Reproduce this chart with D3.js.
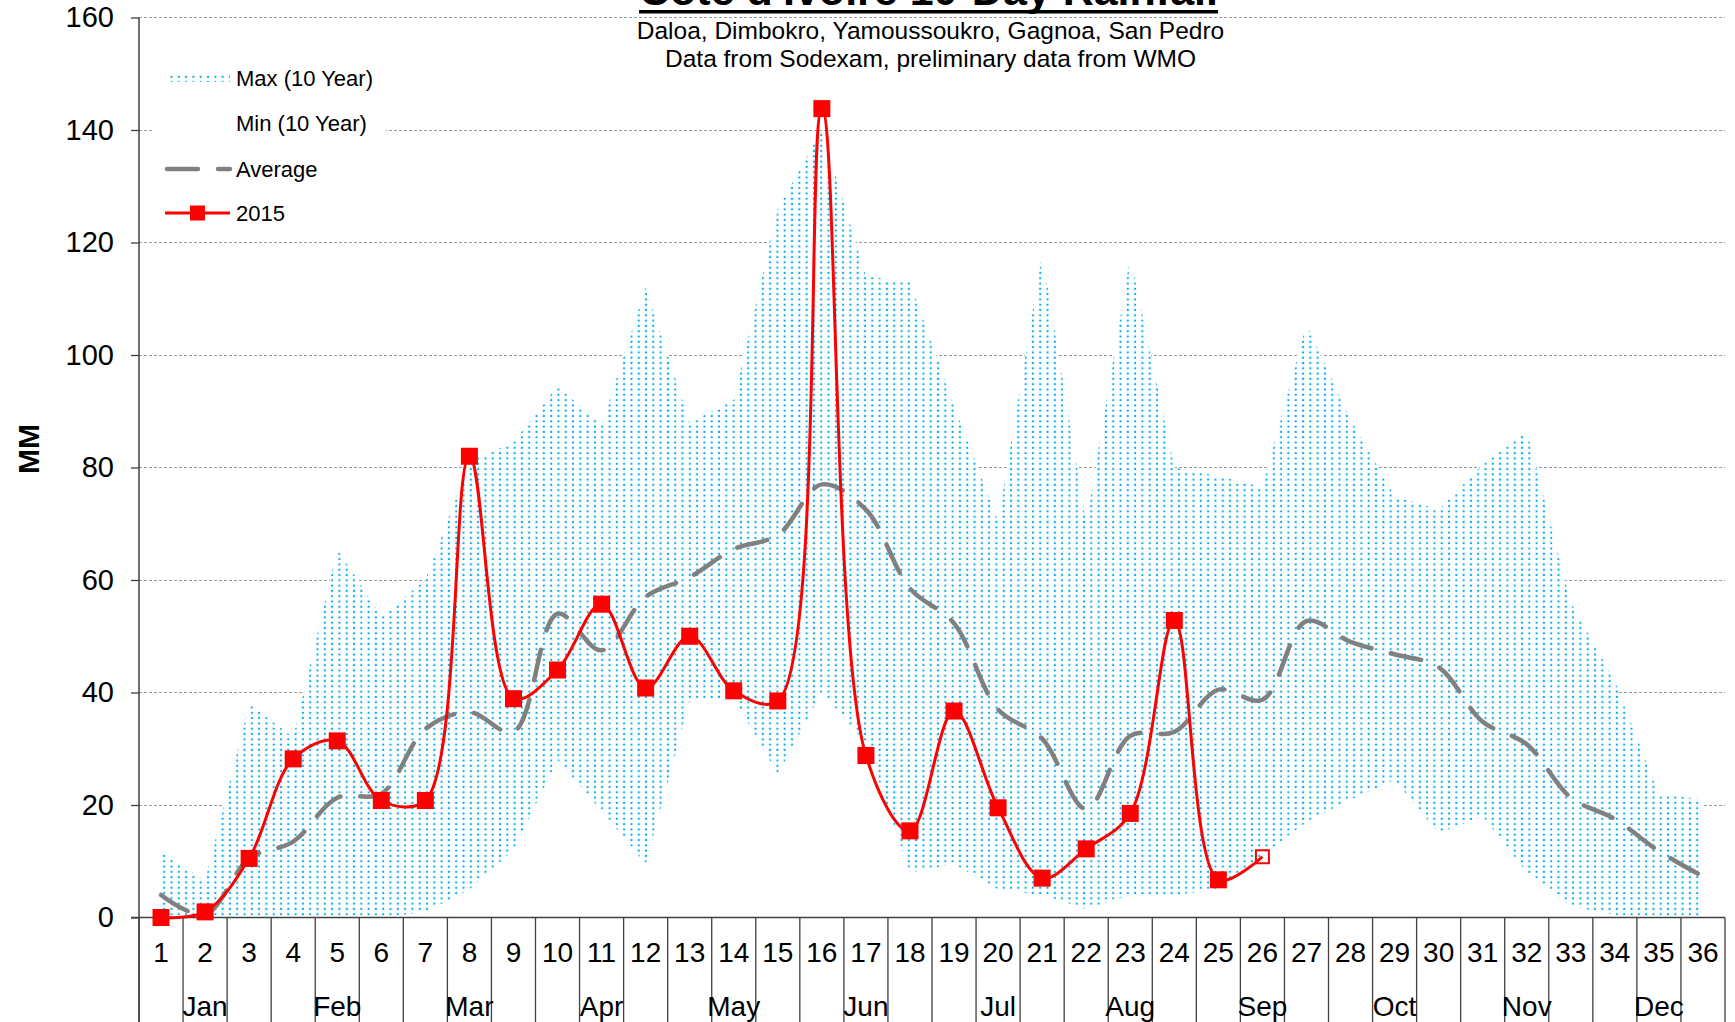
<!DOCTYPE html>
<html><head><meta charset="utf-8">
<script src="https://cdn.jsdelivr.net/npm/d3@7"></script>
<style>html,body{margin:0;padding:0;background:#fff;overflow:hidden}svg{display:block;font-family:"Liberation Sans",Arial,sans-serif}</style>
</head><body>
<svg id="chart" width="1735" height="1022"></svg>
<script>
const categories = ["1","2","3","4","5","6","7","8","9","10","11","12","13","14","15","16","17","18","19","20","21","22","23","24","25","26","27","28","29","30","31","32","33","34","35","36"];
const months = ["Jan","Feb","Mar","Apr","May","Jun","Jul","Aug","Sep","Oct","Nov","Dec"];
const maxValues = [12, 6.5, 38, 32, 65.5, 53.5, 60, 81, 84.5, 94.5, 87.5, 112, 88, 92, 126, 140, 114, 113, 91, 70.5, 118, 70, 117.5, 80, 78.5, 76.5, 105.5, 88.5, 75, 72.5, 80.5, 86.5, 56, 42, 22, 21];
const minValues = [0, 0, 0, 0, 0, 0, 1, 5, 12, 28, 19, 9.5, 38.5, 39, 25.5, 40, 31, 8, 9.5, 5, 4, 1.5, 4, 4, 5, 11, 17, 21, 24.5, 15, 18, 8, 2, 0.5, 0, 0];
const avgValues = [4, 0.5, 10.5, 13.5, 21.3, 22, 33.5, 36.5, 33, 54, 47.5, 57, 60.5, 65.5, 68, 77, 72.5, 58.5, 52.3, 37, 31.8, 19.3, 32.3, 33, 40.5, 38.7, 52.7, 49, 46.8, 44.5, 34.8, 30.8, 21.3, 17.5, 11.8, 7.3];
const values2015 = [0, 1, 10.5, 28.2, 31.4, 20.8, 20.8, 82, 38.9, 44, 55.7, 40.8, 50, 40.3, 38.5, 143.8, 28.8, 15.4, 36.7, 19.5, 7, 12.2, 18.5, 52.8, 6.7, 10.8];
const yTicks = [0, 20, 40, 60, 80, 100, 120, 140, 160];
const legendLabels = ["Max (10 Year)", "Min (10 Year)", "Average", "2015"];

const FONT = '"Liberation Sans", Arial, sans-serif';
const svg = d3.select("#chart");
const x = d3.scaleBand().domain(categories).range([139, 1725]).padding(0);
const bw = x.bandwidth();
const xc = c => x(c) + bw / 2;
const y = d3.scaleLinear().domain([0, 160]).range([917.5, 17.5]);
const bottom = 1022;

// pattern
const defs = svg.append("defs");
const pat = defs.append("pattern").attr("id", "dots").attr("patternUnits", "userSpaceOnUse")
  .attr("width", 7.3).attr("height", 5.3);
pat.append("rect").attr("width", 7.3).attr("height", 5.3).attr("fill", "#fff");
pat.append("rect").attr("x", 2.6).attr("y", 1.6).attr("width", 2).attr("height", 2).attr("fill", "#00b0f0");

// gridlines
svg.append("g").selectAll("line").data(yTicks.filter(d => d > 0)).join("line")
  .attr("x1", 139).attr("x2", 1725).attr("y1", d => y(d)).attr("y2", d => y(d))
  .attr("stroke", "#9a9a9a").attr("stroke-width", 1).attr("stroke-dasharray", "3,2")
  .attr("shape-rendering", "crispEdges");

// areas
const area = d3.area().x((d, i) => xc(categories[i])).y0(y(0)).y1(d => y(d));
svg.append("path").datum(maxValues).attr("d", area).attr("fill", "url(#dots)");
svg.append("path").datum(minValues).attr("d", area).attr("fill", "#fff");

// legend box
svg.append("rect").attr("x", 153).attr("y", 55).attr("width", 233).attr("height", 180).attr("fill", "#fff");

// axes
const yAxis = svg.append("g").attr("transform", "translate(139,0)")
  .call(d3.axisLeft(y).tickValues(yTicks).tickSize(8).tickPadding(17));
yAxis.select(".domain").remove();
yAxis.attr("font-family", FONT).attr("font-size", 29);
yAxis.selectAll("line").attr("stroke", "#404040").attr("stroke-width", 1.3);
yAxis.selectAll("text").attr("fill", "#000");

svg.append("line").attr("x1", 139).attr("x2", 139).attr("y1", y(160)).attr("y2", bottom)
  .attr("stroke", "#404040").attr("stroke-width", 1.5);
svg.append("line").attr("x1", 131).attr("x2", x.range()[1]).attr("y1", y(0)).attr("y2", y(0))
  .attr("stroke", "#404040").attr("stroke-width", 1.5);

const bounds = categories.map(c => x(c)).concat([x.range()[1]]);
svg.append("g").selectAll("line").data(bounds).join("line")
  .attr("x1", d => d).attr("x2", d => d).attr("y1", y(0)).attr("y2", bottom)
  .attr("stroke", "#404040").attr("stroke-width", 1.3);

const xAxis = svg.append("g").attr("transform", `translate(0,${y(0)})`)
  .call(d3.axisBottom(x).tickSize(0).tickPadding(25));
xAxis.select(".domain").remove();
xAxis.attr("font-family", FONT).attr("font-size", 28);
xAxis.selectAll("text").attr("fill", "#000");

svg.append("g").selectAll("text").data(months).join("text")
  .attr("x", (m, i) => x(categories[i * 3]) + 1.5 * bw).attr("y", 1016)
  .attr("text-anchor", "middle").attr("font-family", FONT).attr("font-size", 28).text(d => d);

// lines
const line = d3.line().x((d, i) => xc(categories[i])).y(d => y(d)).curve(d3.curveCatmullRom.alpha(0.5));
svg.append("path").datum(avgValues).attr("d", line).attr("fill", "none")
  .attr("stroke", "#808080").attr("stroke-width", 4.5).attr("stroke-dasharray", "31,20")
  .attr("stroke-linecap", "round");
svg.append("path").datum(values2015).attr("d", line).attr("fill", "none")
  .attr("stroke", "#ff0000").attr("stroke-width", 3);
const last = values2015.length - 1;
svg.append("g").selectAll("rect").data(values2015.slice(0, last)).join("rect")
  .attr("x", (d, i) => xc(categories[i]) - 8.5).attr("y", d => y(d) - 8.5)
  .attr("width", 17).attr("height", 17).attr("fill", "#ff0000");
svg.append("rect").attr("x", xc(categories[last]) - 6.5).attr("y", y(values2015[last]) - 6.5)
  .attr("width", 13).attr("height", 13).attr("fill", "none").attr("stroke", "#ff0000").attr("stroke-width", 2);

// legend
const lg = svg.append("g");
const ly = [78, 123, 169, 213];
lg.append("rect").attr("x", 165).attr("y", 74).attr("width", 65).attr("height", 8).attr("fill", "url(#dots)");
lg.append("line").attr("x1", 167).attr("x2", 230).attr("y1", ly[2]).attr("y2", ly[2])
  .attr("stroke", "#808080").attr("stroke-width", 4.5).attr("stroke-dasharray", "31,20").attr("stroke-linecap", "round");
lg.append("line").attr("x1", 165).attr("x2", 230).attr("y1", ly[3]).attr("y2", ly[3])
  .attr("stroke", "#ff0000").attr("stroke-width", 3);
lg.append("rect").attr("x", 190).attr("y", ly[3] - 7.5).attr("width", 15).attr("height", 15).attr("fill", "#ff0000");
lg.selectAll("text").data(legendLabels).join("text")
  .attr("x", 236).attr("y", (d, i) => ly[i] + 8).attr("font-family", FONT).attr("font-size", 22).text(d => d);

// MM label
svg.append("text").attr("transform", "translate(39,449) rotate(-90)").attr("text-anchor", "middle")
  .attr("font-family", FONT).attr("font-size", 30).attr("font-weight", "bold").text("MM");

// titles
const title = svg.append("text").attr("x", 928.5).attr("y", 5).attr("text-anchor", "middle")
  .attr("font-family", FONT).attr("font-size", 43).attr("font-weight", "bold").text("Cote d'Ivoire 10-Day Rainfall");
const tl = title.node().getComputedTextLength();
svg.append("rect").attr("x", 928.5 - tl / 2).attr("y", 10).attr("width", tl).attr("height", 3.5).attr("fill", "#000");
svg.append("text").attr("x", 930.5).attr("y", 39).attr("text-anchor", "middle")
  .attr("font-family", FONT).attr("font-size", 24.5).text("Daloa, Dimbokro, Yamoussoukro, Gagnoa, San Pedro");
svg.append("text").attr("x", 930.5).attr("y", 67).attr("text-anchor", "middle")
  .attr("font-family", FONT).attr("font-size", 24.5).text("Data from Sodexam, preliminary data from WMO");
</script>
</body></html>
